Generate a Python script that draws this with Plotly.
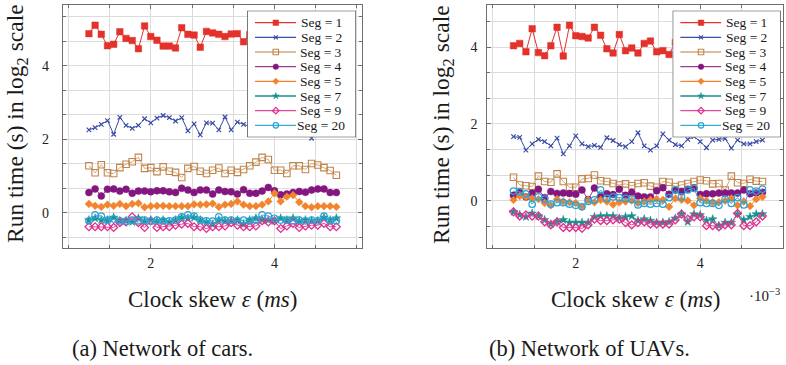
import plotly.graph_objects as go

# Clock skew sample points (axis shows values scaled by 1e-3 ms)
skew_ms = [1.0, 1.1, 1.2, 1.3, 1.4, 1.5, 1.6, 1.7, 1.8, 1.9,
           2.0, 2.1, 2.2, 2.3, 2.4, 2.5, 2.6, 2.7, 2.8, 2.9,
           3.0, 3.1, 3.2, 3.3, 3.4, 3.5, 3.6, 3.7, 3.8, 3.9,
           4.0, 4.1, 4.2, 4.3, 4.4, 4.5, 4.6, 4.7, 4.8, 4.9, 5.0]

seg_labels = ["Seg = 1", "Seg = 2", "Seg = 3", "Seg = 4",
              "Seg = 5", "Seg = 7", "Seg = 9", "Seg = 20"]

# ---- (a) Network of cars: log2 run time ----
cars_seg1 = [4.88, 5.11, 4.86, 4.55, 4.59, 4.93, 4.75, 4.69, 4.47, 5.09,
             4.80, 4.70, 4.54, 4.54, 4.49, 5.04, 4.86, 4.84, 4.51, 4.94,
             4.90, 4.86, 4.80, 4.87, 4.88, 4.66, 4.85, 4.90, 4.75, 4.95,
             4.80, 4.70, 4.90, 4.85, 4.75, 4.80, 4.95, 4.70, 4.85, 4.80, 4.90]
cars_seg2 = [2.26, 2.32, 2.41, 2.51, 2.14, 2.60, 2.38, 2.30, 2.38, 2.56,
             2.45, 2.58, 2.65, 2.59, 2.50, 2.59, 2.23, 2.42, 2.12, 2.45,
             2.44, 2.26, 2.61, 2.26, 2.47, 2.41, 2.35, 2.45, 2.30, 2.50,
             2.40, 2.55, 2.35, 2.45, 2.30, 2.50, 2.03, 2.40, 2.50, 2.35, 2.45]
cars_seg3 = [1.28, 1.09, 1.31, 1.09, 1.07, 1.23, 1.32, 1.39, 1.51, 1.21,
             1.23, 1.12, 1.25, 1.13, 1.10, 0.96, 1.21, 1.26, 1.13, 1.07,
             1.16, 1.22, 1.07, 1.16, 1.10, 1.18, 1.28, 1.38, 1.51, 1.45,
             1.16, 1.16, 1.07, 1.28, 1.28, 1.18, 1.34, 1.30, 1.23, 1.15, 1.02]
cars_seg4 = [0.55, 0.65, 0.46, 0.64, 0.65, 0.59, 0.64, 0.53, 0.59, 0.59,
             0.57, 0.60, 0.60, 0.57, 0.55, 0.67, 0.62, 0.55, 0.62, 0.62,
             0.51, 0.62, 0.58, 0.57, 0.51, 0.63, 0.53, 0.53, 0.59, 0.69,
             0.60, 0.49, 0.51, 0.55, 0.58, 0.56, 0.62, 0.65, 0.65, 0.55, 0.55]
cars_seg5 = [0.24, 0.19, 0.16, 0.22, 0.19, 0.24, 0.18, 0.24, 0.26, 0.15,
             0.18, 0.19, 0.19, 0.18, 0.18, 0.18, 0.18, 0.23, 0.22, 0.23,
             0.25, 0.16, 0.22, 0.24, 0.31, 0.22, 0.18, 0.18, 0.22, 0.31,
             0.53, 0.31, 0.44, 0.48, 0.29, 0.18, 0.15, 0.18, 0.18, 0.18, 0.16]
cars_seg7 = [-0.20, -0.15, -0.20, -0.20, -0.13, -0.22, -0.22, -0.25, -0.15, -0.22,
             -0.20, -0.22, -0.20, -0.25, -0.20, -0.13, -0.15, -0.13, -0.20, -0.25,
             -0.31, -0.20, -0.22, -0.22, -0.20, -0.31, -0.20, -0.15, -0.20, -0.20,
             -0.22, -0.15, -0.20, -0.15, -0.22, -0.20, -0.22, -0.22, -0.13, -0.20, -0.15]
cars_seg9 = [-0.38, -0.38, -0.38, -0.38, -0.40, -0.27, -0.25, -0.11, -0.27, -0.40,
             -0.22, -0.40, -0.38, -0.38, -0.34, -0.31, -0.29, -0.38, -0.38, -0.43,
             -0.38, -0.38, -0.36, -0.27, -0.34, -0.38, -0.38, -0.36, -0.22, -0.25,
             -0.22, -0.43, -0.36, -0.29, -0.40, -0.36, -0.34, -0.34, -0.29, -0.38, -0.38]
cars_seg20 = [-0.22, -0.06, -0.09, -0.20, -0.17, -0.22, -0.23, -0.20, -0.22, -0.20,
              -0.23, -0.20, -0.22, -0.22, -0.20, -0.11, -0.06, -0.09, -0.20, -0.22,
              -0.23, -0.11, -0.20, -0.20, -0.22, -0.20, -0.22, -0.20, -0.06, -0.09,
              -0.15, -0.20, -0.20, -0.22, -0.20, -0.22, -0.20, -0.22, -0.09, -0.22, -0.22]

# ---- (b) Network of UAVs: log2 run time ----
uavs_seg1 = [4.04, 4.10, 3.88, 4.48, 3.86, 3.78, 4.04, 4.52, 3.77, 4.57,
             4.30, 4.28, 4.24, 4.52, 4.31, 3.96, 3.85, 4.33, 3.91, 3.98,
             3.85, 4.10, 4.16, 3.88, 3.91, 3.81, 4.12, 3.95, 4.20, 3.90,
             4.05, 4.25, 3.85, 4.10, 4.00, 4.30, 3.92, 4.15, 4.05, 3.88, 4.10]
uavs_seg2 = [1.67, 1.65, 1.32, 1.48, 1.60, 1.54, 1.43, 1.63, 1.22, 1.43,
             1.69, 1.48, 1.41, 1.44, 1.39, 1.64, 1.57, 1.46, 1.41, 1.54,
             1.77, 1.43, 1.32, 1.43, 1.74, 1.58, 1.46, 1.43, 1.60, 1.67,
             1.54, 1.38, 1.58, 1.60, 1.62, 1.37, 1.58, 1.48, 1.48, 1.54, 1.58]
uavs_seg3 = [0.61, 0.41, 0.39, 0.37, 0.64, 0.50, 0.48, 0.70, 0.50, 0.35,
             0.35, 0.57, 0.58, 0.67, 0.52, 0.50, 0.45, 0.41, 0.44, 0.39,
             0.45, 0.47, 0.38, 0.35, 0.50, 0.48, 0.37, 0.41, 0.45, 0.50,
             0.54, 0.52, 0.44, 0.45, 0.28, 0.64, 0.47, 0.45, 0.56, 0.51, 0.50]
uavs_seg4 = [0.14, 0.22, 0.10, 0.20, 0.30, 0.08, 0.24, 0.19, 0.20, 0.19,
             0.17, 0.28, 0.03, 0.33, 0.12, 0.18, 0.16, 0.30, 0.14, 0.22,
             0.12, 0.10, 0.10, 0.26, 0.34, 0.17, 0.28, 0.24, 0.30, 0.33,
             0.16, 0.18, 0.18, 0.20, 0.20, 0.20, 0.20, 0.28, 0.18, 0.20, 0.22]
uavs_seg5 = [0.02, 0.12, 0.10, 0.06, 0.04, -0.06, -0.12, 0.04, -0.02, -0.04,
             -0.06, -0.16, 0.02, -0.04, 0.02, -0.02, -0.10, -0.04, -0.02, 0.00,
             -0.06, -0.02, 0.02, 0.04, 0.02, -0.16, 0.06, 0.02, 0.00, -0.12,
             0.06, 0.00, -0.04, -0.04, 0.00, 0.06, -0.12, -0.02, -0.14, 0.04, 0.10]
uavs_seg7 = [-0.29, -0.37, -0.42, -0.33, -0.40, -0.50, -0.61, -0.55, -0.50, -0.57,
             -0.57, -0.57, -0.57, -0.42, -0.40, -0.40, -0.40, -0.46, -0.42, -0.40,
             -0.52, -0.48, -0.52, -0.57, -0.57, -0.55, -0.46, -0.35, -0.55, -0.35,
             -0.37, -0.52, -0.48, -0.65, -0.57, -0.57, -0.35, -0.50, -0.42, -0.35, -0.35]
uavs_seg9 = [-0.29, -0.40, -0.37, -0.40, -0.40, -0.55, -0.63, -0.55, -0.70, -0.70,
             -0.70, -0.72, -0.63, -0.48, -0.52, -0.52, -0.50, -0.48, -0.57, -0.63,
             -0.57, -0.55, -0.61, -0.61, -0.61, -0.61, -0.50, -0.35, -0.48, -0.42,
             -0.42, -0.65, -0.65, -0.68, -0.63, -0.63, -0.33, -0.65, -0.65, -0.55, -0.40]
uavs_seg20 = [0.25, 0.23, 0.18, -0.09, 0.10, 0.04, -0.09, -0.05, -0.05, -0.09,
              -0.12, -0.16, -0.02, 0.02, 0.28, 0.06, 0.10, 0.08, 0.06, 0.04,
              -0.11, -0.07, -0.09, -0.07, -0.09, 0.08, 0.28, 0.10, 0.28, 0.32,
              -0.05, -0.07, -0.07, -0.12, 0.04, -0.07, 0.08, -0.11, 0.28, 0.25, 0.30]

cars_series = [cars_seg1, cars_seg2, cars_seg3, cars_seg4,
               cars_seg5, cars_seg7, cars_seg9, cars_seg20]
uavs_series = [uavs_seg1, uavs_seg2, uavs_seg3, uavs_seg4,
               uavs_seg5, uavs_seg7, uavs_seg9, uavs_seg20]

# Per-series drawing style (size = plot marker, lsize = legend marker)
STYLES = [
    dict(line="#e3312b", mark="#e3312b", symbol="square", size=6.5, lsize=5.5, lw=0.5),
    dict(line="#3b4ca5", mark="#3b4ca5", symbol="x-thin", size=4.5, lsize=4, lw=1.2),
    dict(line="#d4a67a", mark="#c0854a", symbol="square-open", size=6.5, lsize=5.5, lw=1.1),
    dict(line="#9c3a9a", mark="#84177f", symbol="circle", size=7, lsize=5.5, lw=0.5),
    dict(line="#f2842e", mark="#f2842e", symbol="diamond", size=6, lsize=5, lw=0.5),
    dict(line="#17908c", mark="#17908c", symbol="star", size=6.5, lsize=5, lw=0.5),
    dict(line="#e3489c", mark="#e0308f", symbol="diamond-open", size=6, lsize=5, lw=1.3),
    dict(line="#3aaad8", mark="#2aa3d6", symbol="circle-open", size=6.5, lsize=5.5, lw=1.2),
]

SERIF = "Liberation Serif, DejaVu Serif, serif"
FRAME = "#6e6e6e"
GRID = "#dcdcdc"
W, H = 786, 365


def px_x(p):
    return p / W


def px_y(p):
    return 1 - p / H


fig = go.Figure()

panels = [
    dict(xa="x", ya="y", lx="x3", ly="y3", data=cars_series),
    dict(xa="x2", ya="y2", lx="x4", ly="y4", data=uavs_series),
]

# Legend inset geometry (in the inset axes' own units = pixels)
LEG_W, LEG_H = 108.7, 126.6
LEG_ROW0, LEG_STEP = 12.0, 14.66
LEG_LX0, LEG_LX1, LEG_MX, LEG_TX = 7.7, 48.7, 28.5, 74.0

for p in panels:
    for series, st in zip(p["data"], STYLES):
        fig.add_trace(go.Scatter(
            x=skew_ms, y=series, mode="lines+markers",
            xaxis=p["xa"], yaxis=p["ya"], showlegend=False,
            line=dict(color=st["line"], width=1),
            marker=dict(symbol=st["symbol"], size=st["size"], color=st["mark"],
                        line=dict(color=st["mark"], width=st["lw"])),
        ))
    for i, (st, label) in enumerate(zip(STYLES, seg_labels)):
        ry = LEG_ROW0 + i * LEG_STEP
        fig.add_trace(go.Scatter(
            x=[LEG_LX0, LEG_LX1], y=[ry, ry], mode="lines",
            xaxis=p["lx"], yaxis=p["ly"], showlegend=False, hoverinfo="skip",
            line=dict(color=st["line"], width=1.3),
        ))
        fig.add_trace(go.Scatter(
            x=[LEG_MX], y=[ry], mode="markers",
            xaxis=p["lx"], yaxis=p["ly"], showlegend=False, hoverinfo="skip",
            marker=dict(symbol=st["symbol"], size=st["lsize"], color=st["mark"],
                        line=dict(color=st["mark"], width=st["lw"])),
        ))
        fig.add_annotation(
            x=LEG_TX, y=ry, xref=p["lx"], yref=p["ly"], text=label,
            showarrow=False, xanchor="center", yanchor="middle",
            font=dict(family=SERIF, size=13.5, color="#1a1a1a"),
        )
    fig.add_shape(type="rect", xref=p["lx"], yref=p["ly"], x0=0, x1=LEG_W,
                  y0=0, y1=LEG_H, layer="below", fillcolor="white",
                  line=dict(color="#111111", width=1))

axis_common = dict(
    showline=True, mirror="ticks", linecolor=FRAME, linewidth=1,
    ticks="inside", ticklen=4, tickcolor=FRAME, tick0=0, dtick=2,
    showgrid=True, gridcolor=GRID, gridwidth=1, zeroline=False,
    tickfont=dict(family=SERIF, size=14, color="#222222"),
    minor=dict(tick0=0, dtick=2 / 3, showgrid=True, gridcolor=GRID, gridwidth=1,
               ticks="inside", ticklen=3, tickcolor=FRAME),
)

legend_axis = dict(visible=False, showgrid=False, zeroline=False, fixedrange=True)

fig.update_layout(
    width=W, height=H, margin=dict(l=0, r=0, t=0, b=0),
    paper_bgcolor="white", plot_bgcolor="white", showlegend=False,
    xaxis=dict(axis_common, domain=[px_x(62.7), px_x(361.7)], range=[0.576, 5.41],
               anchor="y", ticklabelstandoff=2),
    yaxis=dict(axis_common, domain=[px_y(248), px_y(5)], range=[-0.96, 5.66],
               anchor="x", ticklabelstandoff=10),
    xaxis2=dict(axis_common, domain=[px_x(487.3), px_x(783)], range=[0.579, 5.33],
                anchor="y2", ticklabelstandoff=2),
    yaxis2=dict(axis_common, domain=[px_y(248.3), px_y(5)], range=[-1.24, 5.10],
                anchor="x2", ticklabelstandoff=6),
    xaxis3=dict(legend_axis, domain=[px_x(247.3), px_x(356)], range=[0, LEG_W], anchor="y3"),
    yaxis3=dict(legend_axis, domain=[px_y(137.3), px_y(10.7)], range=[LEG_H, 0], anchor="x3"),
    xaxis4=dict(legend_axis, domain=[px_x(672.7), px_x(780.7)], range=[0, LEG_W], anchor="y4"),
    yaxis4=dict(legend_axis, domain=[px_y(137.3), px_y(10.7)], range=[LEG_H, 0], anchor="x4"),
)

title_font = dict(family=SERIF, size=23.5, color="#1a1a1a")
ytitle = "Run time (s) in log<sub>2</sub> scale"
xtitle = "Clock skew <i>ε</i> (<i>ms</i>)"

for xc, text in [(17, ytitle), (443, ytitle)]:
    fig.add_annotation(x=px_x(xc), y=px_y(124), xref="paper", yref="paper",
                       text=text, textangle=-90, showarrow=False,
                       xanchor="center", yanchor="middle", font=title_font)

for xc, text in [(212, xtitle), (635, xtitle)]:
    fig.add_annotation(x=px_x(xc), y=px_y(299), xref="paper", yref="paper",
                       text=text, showarrow=False, xanchor="center",
                       yanchor="middle", font=dict(family=SERIF, size=23, color="#1a1a1a"))

fig.add_annotation(x=px_x(764), y=px_y(295), xref="paper", yref="paper",
                   text="·10<sup>−3</sup>", showarrow=False, xanchor="center",
                   yanchor="middle", font=dict(family=SERIF, size=15, color="#1a1a1a"))

caption_font = dict(family=SERIF, size=22.5, color="#1a1a1a")
for xc, text in [(162, "(a) Network of cars."), (589, "(b) Network of UAVs.")]:
    fig.add_annotation(x=px_x(xc), y=px_y(348), xref="paper", yref="paper",
                       text=text, showarrow=False, xanchor="center",
                       yanchor="middle", font=caption_font)

fig.write_html("out.html")
